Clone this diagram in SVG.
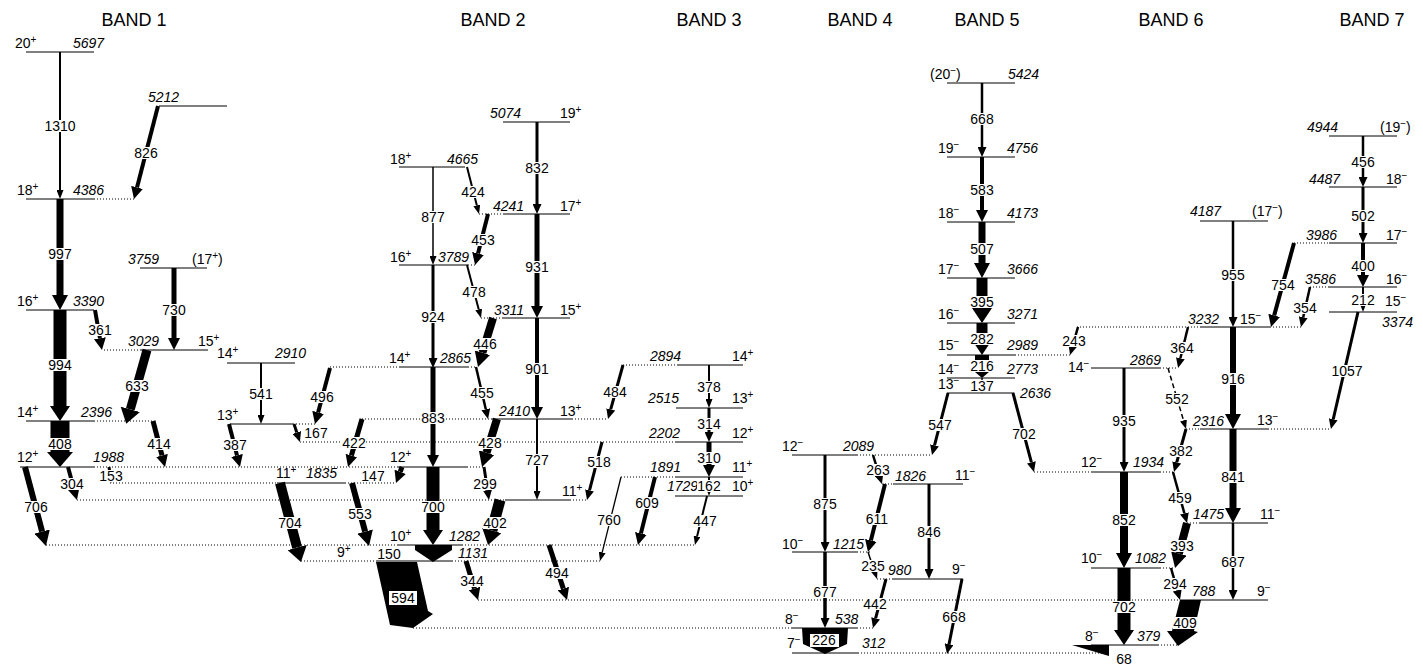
<svg xmlns="http://www.w3.org/2000/svg" width="1423" height="668" viewBox="0 0 1423 668">
<style>
text{font-family:"Liberation Sans",Arial,sans-serif;font-size:14px;fill:#000}
.e{font-style:italic}
.c{text-anchor:middle}
.sp{font-size:10px}
.ttl{font-size:18px;text-anchor:middle}
.lv{stroke:#000;stroke-width:1}
.dt{stroke:#000;stroke-width:1;stroke-dasharray:1 2}
.tr line{stroke:#000}
.bx{fill:#fff}
.bx3{fill:#fff;width:24px;height:12px}
.bx4{fill:#fff;width:31px;height:12px}
</style>
<defs>
<marker id="a1" markerUnits="userSpaceOnUse" markerWidth="9" markerHeight="7" viewBox="0 0 9 7" refX="0" refY="3.5" orient="auto"><path d="M0,0L9,3.5L0,7z"/></marker>
<marker id="a2" markerUnits="userSpaceOnUse" markerWidth="10" markerHeight="9" viewBox="0 0 10 9" refX="0" refY="4.5" orient="auto"><path d="M0,0L10,4.5L0,9z"/></marker>
<marker id="a3" markerUnits="userSpaceOnUse" markerWidth="12" markerHeight="12" viewBox="0 0 12 12" refX="0" refY="6" orient="auto"><path d="M0,0L12,6L0,12z"/></marker>
<marker id="a4" markerUnits="userSpaceOnUse" markerWidth="15" markerHeight="16" viewBox="0 0 15 16" refX="0" refY="8" orient="auto"><path d="M0,0L15,8L0,16z"/></marker>
<marker id="a5" markerUnits="userSpaceOnUse" markerWidth="15" markerHeight="20" viewBox="0 0 15 20" refX="0" refY="10" orient="auto"><path d="M0,0L15,10L0,20z"/></marker>
<marker id="a6" markerUnits="userSpaceOnUse" markerWidth="15" markerHeight="26" viewBox="0 0 15 26" refX="0" refY="13" orient="auto"><path d="M0,0L15,13L0,26z"/></marker>
</defs>
<rect width="1423" height="668" fill="#fff"/>
<g id="titles">
<text class="ttl" x="134" y="26">BAND 1</text>
<text class="ttl" x="493" y="26">BAND 2</text>
<text class="ttl" x="709" y="26">BAND 3</text>
<text class="ttl" x="860" y="26">BAND 4</text>
<text class="ttl" x="987" y="26">BAND 5</text>
<text class="ttl" x="1171" y="26">BAND 6</text>
<text class="ttl" x="1372" y="26">BAND 7</text>
</g>
<g id="levels">
<g id="lv-5697"><line class="lv" x1="26" y1="52" x2="94" y2="52"/><text x="15" y="48">20<tspan class="sp" dy="-5">+</tspan></text><text class="e" x="73" y="48">5697</text></g>
<g id="lv-5212"><line class="lv" x1="159" y1="106" x2="227" y2="106"/><text class="e" x="148" y="102">5212</text></g>
<g id="lv-4386"><line class="lv" x1="26" y1="199" x2="94" y2="199"/><line class="dt" x1="94" y1="199" x2="134" y2="199"/><text x="17" y="195">18<tspan class="sp" dy="-5">+</tspan></text><text class="e" x="73" y="195">4386</text></g>
<g id="lv-3759"><line class="lv" x1="140" y1="268" x2="207" y2="268"/><text class="e" x="128" y="264">3759</text><text x="192" y="264">(17<tspan class="sp" dy="-5">+</tspan><tspan dy="5">)</tspan></text></g>
<g id="lv-3390"><line class="lv" x1="26" y1="310" x2="94" y2="310"/><text x="17" y="306">16<tspan class="sp" dy="-5">+</tspan></text><text class="e" x="73" y="306">3390</text></g>
<g id="lv-3029"><line class="lv" x1="140" y1="350" x2="208" y2="350"/><line class="dt" x1="104" y1="350" x2="140" y2="350"/><text class="e" x="128" y="346">3029</text><text x="198" y="346">15<tspan class="sp" dy="-5">+</tspan></text></g>
<g id="lv-2396"><line class="lv" x1="26" y1="421" x2="94" y2="421"/><line class="dt" x1="94" y1="421" x2="153" y2="421"/><text x="17" y="417">14<tspan class="sp" dy="-5">+</tspan></text><text class="e" x="81" y="417">2396</text></g>
<g id="lv-1988"><line class="lv" x1="20" y1="467" x2="94" y2="467"/><line class="dt" x1="94" y1="467" x2="398" y2="467"/><text x="17" y="462">12<tspan class="sp" dy="-5">+</tspan></text><text class="e" x="93" y="462">1988</text></g>
<g id="lv-2910"><line class="lv" x1="227" y1="363" x2="295" y2="363"/><text x="217" y="358">14<tspan class="sp" dy="-5">+</tspan></text><text class="e" x="275" y="358">2910</text></g>
<g id="lv-b1-13"><line class="lv" x1="230" y1="424" x2="293" y2="424"/><line class="dt" x1="293" y1="424" x2="315" y2="424"/><text x="217" y="420">13<tspan class="sp" dy="-5">+</tspan></text></g>
<g id="lv-1835"><line class="lv" x1="277" y1="483" x2="345" y2="483"/><line class="dt" x1="110" y1="483" x2="277" y2="483"/><line class="dt" x1="345" y1="483" x2="396" y2="483"/><text x="276" y="478">11<tspan class="sp" dy="-5">+</tspan></text><text class="e" x="306" y="478">1835</text></g>
<g id="lv-4665"><line class="lv" x1="399" y1="167" x2="465" y2="167"/><text x="390" y="164">18<tspan class="sp" dy="-5">+</tspan></text><text class="e" x="447" y="164">4665</text></g>
<g id="lv-5074"><line class="lv" x1="503" y1="122" x2="570" y2="122"/><text class="e" x="490" y="118">5074</text><text x="560" y="118">19<tspan class="sp" dy="-5">+</tspan></text></g>
<g id="lv-4241"><line class="lv" x1="503" y1="214" x2="570" y2="214"/><line class="dt" x1="479" y1="214" x2="503" y2="214"/><text class="e" x="493" y="211">4241</text><text x="560" y="211">17<tspan class="sp" dy="-5">+</tspan></text></g>
<g id="lv-3789"><line class="lv" x1="399" y1="265" x2="468" y2="265"/><line class="dt" x1="468" y1="265" x2="477" y2="265"/><text x="390" y="262">16<tspan class="sp" dy="-5">+</tspan></text><text class="e" x="438" y="262">3789</text></g>
<g id="lv-3311"><line class="lv" x1="503" y1="318" x2="570" y2="318"/><line class="dt" x1="481" y1="318" x2="503" y2="318"/><text class="e" x="494" y="315">3311</text><text x="560" y="315">15<tspan class="sp" dy="-5">+</tspan></text></g>
<g id="lv-2865"><line class="lv" x1="400" y1="367" x2="468" y2="367"/><line class="dt" x1="330" y1="367" x2="400" y2="367"/><line class="dt" x1="468" y1="367" x2="476" y2="367"/><text x="389" y="363">14<tspan class="sp" dy="-5">+</tspan></text><text class="e" x="440" y="363">2865</text></g>
<g id="lv-2410"><line class="lv" x1="492" y1="419" x2="572" y2="419"/><line class="dt" x1="362" y1="419" x2="492" y2="419"/><line class="dt" x1="572" y1="419" x2="608" y2="419"/><text class="e" x="499" y="416">2410</text><text x="560" y="416">13<tspan class="sp" dy="-5">+</tspan></text></g>
<g id="lv-b2-12"><line class="lv" x1="398" y1="467" x2="467" y2="467"/><line class="dt" x1="467" y1="467" x2="484" y2="467"/><text x="390" y="462">12<tspan class="sp" dy="-5">+</tspan></text></g>
<g id="lv-b2-11"><line class="lv" x1="505" y1="500" x2="570" y2="500"/><line class="dt" x1="77" y1="500" x2="505" y2="500"/><line class="dt" x1="570" y1="500" x2="587" y2="500"/><text x="562" y="496">11<tspan class="sp" dy="-5">+</tspan></text></g>
<g id="lv-1282"><line class="lv" x1="398" y1="545" x2="462" y2="545"/><line class="dt" x1="46" y1="545" x2="398" y2="545"/><line class="dt" x1="462" y1="545" x2="695" y2="545"/><text x="390" y="541">10<tspan class="sp" dy="-5">+</tspan></text><text class="e" x="449" y="541">1282</text></g>
<g id="lv-1131"><line class="lv" x1="376" y1="561" x2="452" y2="561"/><line class="dt" x1="301" y1="561" x2="376" y2="561"/><line class="dt" x1="452" y1="561" x2="600" y2="561"/><text x="337" y="557">9<tspan class="sp" dy="-5">+</tspan></text><text class="e" x="458" y="558">1131</text></g>
<g id="lv-2894"><line class="lv" x1="677" y1="365" x2="743" y2="365"/><line class="dt" x1="623" y1="365" x2="677" y2="365"/><text class="e" x="650" y="361">2894</text><text x="732" y="361">14<tspan class="sp" dy="-5">+</tspan></text></g>
<g id="lv-2515"><line class="lv" x1="676" y1="408" x2="743" y2="408"/><text class="e" x="648" y="403">2515</text><text x="732" y="403">13<tspan class="sp" dy="-5">+</tspan></text></g>
<g id="lv-2202"><line class="lv" x1="676" y1="442" x2="743" y2="442"/><line class="dt" x1="300" y1="442" x2="676" y2="442"/><text class="e" x="649" y="438">2202</text><text x="732" y="438">12<tspan class="sp" dy="-5">+</tspan></text></g>
<g id="lv-1891"><line class="lv" x1="675" y1="477" x2="743" y2="477"/><line class="dt" x1="621" y1="477" x2="675" y2="477"/><text class="e" x="650" y="472">1891</text><text x="732" y="472">11<tspan class="sp" dy="-5">+</tspan></text></g>
<g id="lv-1729"><line class="lv" x1="675" y1="496" x2="743" y2="496"/><text class="e" x="667" y="491">1729</text><text x="732" y="491">10<tspan class="sp" dy="-5">+</tspan></text></g>
<g id="lv-2089"><line class="lv" x1="792" y1="455" x2="857" y2="455"/><line class="dt" x1="857" y1="455" x2="932" y2="455"/><text x="782" y="451">12<tspan class="sp" dy="-5">−</tspan></text><text class="e" x="843" y="451">2089</text></g>
<g id="lv-1826"><line class="lv" x1="893" y1="484" x2="963" y2="484"/><line class="dt" x1="882" y1="484" x2="893" y2="484"/><text class="e" x="895" y="481">1826</text><text x="955" y="480">11<tspan class="sp" dy="-5">−</tspan></text></g>
<g id="lv-1215"><line class="lv" x1="792" y1="552" x2="857" y2="552"/><line class="dt" x1="857" y1="552" x2="870" y2="552"/><text x="782" y="549">10<tspan class="sp" dy="-5">−</tspan></text><text class="e" x="833" y="549">1215</text></g>
<g id="lv-980"><line class="lv" x1="893" y1="579" x2="963" y2="579"/><line class="dt" x1="877" y1="579" x2="893" y2="579"/><text class="e" x="888" y="575">980</text><text x="952" y="574">9<tspan class="sp" dy="-5">−</tspan></text></g>
<g id="lv-538"><line class="lv" x1="792" y1="628" x2="857" y2="628"/><line class="dt" x1="413" y1="628" x2="792" y2="628"/><line class="dt" x1="857" y1="628" x2="874" y2="628"/><text x="785" y="624">8<tspan class="sp" dy="-5">−</tspan></text><text class="e" x="835" y="624">538</text></g>
<g id="lv-312"><line class="lv" x1="792" y1="653" x2="858" y2="653"/><line class="dt" x1="858" y1="653" x2="1108" y2="653"/><text x="787" y="648">7<tspan class="sp" dy="-5">−</tspan></text><text class="e" x="862" y="648">312</text></g>
<g id="lv-5424"><line class="lv" x1="947" y1="83" x2="1015" y2="83"/><text x="930" y="79">(20<tspan class="sp" dy="-5">−</tspan><tspan dy="5">)</tspan></text><text class="e" x="1008" y="79">5424</text></g>
<g id="lv-4756"><line class="lv" x1="947" y1="157" x2="1015" y2="157"/><text x="938" y="153">19<tspan class="sp" dy="-5">−</tspan></text><text class="e" x="1007" y="153">4756</text></g>
<g id="lv-4173"><line class="lv" x1="947" y1="222" x2="1015" y2="222"/><text x="938" y="218">18<tspan class="sp" dy="-5">−</tspan></text><text class="e" x="1007" y="218">4173</text></g>
<g id="lv-3666"><line class="lv" x1="947" y1="278" x2="1015" y2="278"/><text x="938" y="274">17<tspan class="sp" dy="-5">−</tspan></text><text class="e" x="1007" y="274">3666</text></g>
<g id="lv-3271"><line class="lv" x1="947" y1="323" x2="1015" y2="323"/><text x="938" y="319">16<tspan class="sp" dy="-5">−</tspan></text><text class="e" x="1007" y="319">3271</text></g>
<g id="lv-2989"><line class="lv" x1="947" y1="355" x2="1015" y2="355"/><line class="dt" x1="1015" y1="355" x2="1072" y2="355"/><text x="938" y="350">15<tspan class="sp" dy="-5">−</tspan></text><text class="e" x="1007" y="350">2989</text></g>
<g id="lv-2773"><line class="lv" x1="947" y1="378" x2="1015" y2="378"/><text x="938" y="374">14<tspan class="sp" dy="-5">−</tspan></text><text class="e" x="1007" y="374">2773</text></g>
<g id="lv-2636"><line class="lv" x1="947" y1="393" x2="1014" y2="393"/><text x="938" y="389">13<tspan class="sp" dy="-5">−</tspan></text><text class="e" x="1020" y="398">2636</text></g>
<g id="lv-4187"><line class="lv" x1="1200" y1="221" x2="1268" y2="221"/><text class="e" x="1190" y="216">4187</text><text x="1252" y="216">(17<tspan class="sp" dy="-5">−</tspan><tspan dy="5">)</tspan></text></g>
<g id="lv-3232"><line class="lv" x1="1200" y1="327" x2="1270" y2="327"/><line class="dt" x1="1077" y1="327" x2="1200" y2="327"/><line class="dt" x1="1270" y1="327" x2="1301" y2="327"/><text class="e" x="1188" y="324">3232</text><text x="1240" y="324">15<tspan class="sp" dy="-5">−</tspan></text></g>
<g id="lv-2869"><line class="lv" x1="1091" y1="368" x2="1160" y2="368"/><line class="dt" x1="1160" y1="368" x2="1178" y2="368"/><text x="1068" y="372">14<tspan class="sp" dy="-5">−</tspan></text><text class="e" x="1130" y="365">2869</text></g>
<g id="lv-2316"><line class="lv" x1="1200" y1="429" x2="1268" y2="429"/><line class="dt" x1="1186" y1="429" x2="1200" y2="429"/><line class="dt" x1="1268" y1="429" x2="1331" y2="429"/><text class="e" x="1193" y="426">2316</text><text x="1257" y="425">13<tspan class="sp" dy="-5">−</tspan></text></g>
<g id="lv-1934"><line class="lv" x1="1091" y1="472" x2="1160" y2="472"/><line class="dt" x1="1034" y1="472" x2="1091" y2="472"/><line class="dt" x1="1160" y1="472" x2="1174" y2="472"/><text x="1081" y="467">12<tspan class="sp" dy="-5">−</tspan></text><text class="e" x="1133" y="467">1934</text></g>
<g id="lv-1475"><line class="lv" x1="1200" y1="523" x2="1268" y2="523"/><line class="dt" x1="1187" y1="523" x2="1200" y2="523"/><text class="e" x="1193" y="519">1475</text><text x="1260" y="519">11<tspan class="sp" dy="-5">−</tspan></text></g>
<g id="lv-1082"><line class="lv" x1="1091" y1="568" x2="1160" y2="568"/><line class="dt" x1="1160" y1="568" x2="1175" y2="568"/><text x="1081" y="563">10<tspan class="sp" dy="-5">−</tspan></text><text class="e" x="1135" y="563">1082</text></g>
<g id="lv-788"><line class="lv" x1="1180" y1="600" x2="1268" y2="600"/><line class="dt" x1="478" y1="600" x2="1180" y2="600"/><text class="e" x="1192" y="596">788</text><text x="1257" y="596">9<tspan class="sp" dy="-5">−</tspan></text></g>
<g id="lv-379"><line class="lv" x1="1091" y1="645" x2="1158" y2="645"/><line class="dt" x1="1158" y1="645" x2="1178" y2="645"/><text x="1085" y="641">8<tspan class="sp" dy="-5">−</tspan></text><text class="e" x="1137" y="641">379</text></g>
<g id="lv-4944"><line class="lv" x1="1329" y1="136" x2="1397" y2="136"/><text class="e" x="1307" y="132">4944</text><text x="1380" y="132">(19<tspan class="sp" dy="-5">−</tspan><tspan dy="5">)</tspan></text></g>
<g id="lv-4487"><line class="lv" x1="1329" y1="187" x2="1397" y2="187"/><text class="e" x="1309" y="184">4487</text><text x="1386" y="184">18<tspan class="sp" dy="-5">−</tspan></text></g>
<g id="lv-3986"><line class="lv" x1="1329" y1="243" x2="1397" y2="243"/><line class="dt" x1="1294" y1="243" x2="1329" y2="243"/><text class="e" x="1306" y="240">3986</text><text x="1386" y="240">17<tspan class="sp" dy="-5">−</tspan></text></g>
<g id="lv-3586"><line class="lv" x1="1329" y1="287" x2="1397" y2="287"/><line class="dt" x1="1310" y1="287" x2="1329" y2="287"/><text class="e" x="1305" y="284">3586</text><text x="1386" y="284">16<tspan class="sp" dy="-5">−</tspan></text></g>
<g id="lv-3374"><line class="lv" x1="1329" y1="312" x2="1397" y2="312"/><text x="1385" y="306">15<tspan class="sp" dy="-5">−</tspan></text><text class="e" x="1382" y="327">3374</text></g>
</g>
<g id="connectors" class="tr">
<g id="t1310"><line x1="60" y1="52" x2="60" y2="190" stroke-width="2" marker-end="url(#a1)"/><rect class="bx4" x="44.5" y="120"/><text class="c" x="60" y="131">1310</text></g>
<g id="t826"><line x1="158" y1="106" x2="137" y2="187.4" stroke-width="4" marker-end="url(#a3)"/><rect class="bx3" x="134" y="147"/><text class="c" x="146" y="158">826</text></g>
<g id="t997"><line x1="60" y1="199" x2="60" y2="295" stroke-width="7" marker-end="url(#a4)"/><rect class="bx3" x="48" y="248"/><text class="c" x="60" y="259">997</text></g>
<g id="t994"><line x1="60" y1="310" x2="60" y2="406" stroke-width="13" marker-end="url(#a5)"/><rect class="bx3" x="48" y="359"/><text class="c" x="60" y="370">994</text></g>
<g id="t408"><line x1="60" y1="421" x2="60" y2="452" stroke-width="19" marker-end="url(#a6)"/><rect class="bx3" x="48" y="438"/><text class="c" x="60" y="449">408</text></g>
<g id="t730"><line x1="174" y1="268" x2="174" y2="338" stroke-width="5" marker-end="url(#a3)"/><rect class="bx3" x="162" y="304"/><text class="c" x="174" y="315">730</text></g>
<g id="t361"><line x1="95" y1="310" x2="99.9" y2="338.2" stroke-width="4" marker-end="url(#a3)"/><rect class="bx3" x="88" y="324"/><text class="c" x="100" y="335">361</text></g>
<g id="t633"><line x1="147" y1="350" x2="130.3" y2="409.4" stroke-width="9" marker-end="url(#a5)"/><rect class="bx3" x="125" y="380"/><text class="c" x="137" y="391">633</text></g>
<g id="t414"><line x1="153" y1="421" x2="162" y2="455.4" stroke-width="5" marker-end="url(#a3)"/><rect class="bx3" x="147" y="438"/><text class="c" x="159" y="449">414</text></g>
<g id="t153"><line x1="109" y1="467" x2="110" y2="474" stroke-width="3" marker-end="url(#a1)"/><rect class="bx3" x="99" y="470"/><text class="c" x="111" y="481">153</text></g>
<g id="t304"><line x1="68" y1="467" x2="73.8" y2="488.4" stroke-width="4" marker-end="url(#a3)"/><rect class="bx3" x="60" y="478"/><text class="c" x="72" y="489">304</text></g>
<g id="t706"><line x1="25" y1="467" x2="42.1" y2="531.5" stroke-width="6" marker-end="url(#a4)"/><rect class="bx3" x="24" y="501"/><text class="c" x="36" y="512">706</text></g>
<g id="t541"><line x1="261" y1="363" x2="261" y2="415" stroke-width="2" marker-end="url(#a1)"/><rect class="bx3" x="249" y="388"/><text class="c" x="261" y="399">541</text></g>
<g id="t496"><line x1="330" y1="368" x2="318.1" y2="412.4" stroke-width="4" marker-end="url(#a3)"/><rect class="bx3" x="310" y="391"/><text class="c" x="322" y="402">496</text></g>
<g id="t167"><line x1="294" y1="424" x2="296.8" y2="432.5" stroke-width="3" marker-end="url(#a2)"/><text class="c" x="316" y="438">167</text></g>
<g id="t387"><line x1="229" y1="424" x2="237" y2="455.4" stroke-width="4" marker-end="url(#a3)"/><rect class="bx3" x="223" y="439"/><text class="c" x="235" y="450">387</text></g>
<g id="t704"><line x1="280" y1="483" x2="297.1" y2="547.5" stroke-width="10" marker-end="url(#a5)"/><rect class="bx3" x="278" y="517"/><text class="c" x="290" y="528">704</text></g>
<g id="t553"><line x1="352" y1="483" x2="365.1" y2="531.5" stroke-width="6" marker-end="url(#a4)"/><rect class="bx3" x="348" y="508"/><text class="c" x="360" y="519">553</text></g>
<g id="t422"><line x1="362" y1="419" x2="351.4" y2="455.5" stroke-width="5" marker-end="url(#a3)"/><rect class="bx3" x="342" y="437"/><text class="c" x="354" y="448">422</text></g>
<g id="t147"><line x1="402" y1="467" x2="400.2" y2="471.8" stroke-width="5" marker-end="url(#a3)"/><text class="c" x="373" y="481">147</text></g>
<g id="t877"><line x1="433" y1="167" x2="433" y2="256" stroke-width="1.5" marker-end="url(#a1)"/><rect class="bx3" x="421" y="211"/><text class="c" x="433" y="222">877</text></g>
<g id="t424"><line x1="467" y1="167" x2="476.8" y2="205.3" stroke-width="2" marker-end="url(#a1)"/><rect class="bx3" x="461" y="186"/><text class="c" x="473" y="197">424</text></g>
<g id="t832"><line x1="537" y1="122" x2="537" y2="204" stroke-width="3" marker-end="url(#a2)"/><rect class="bx3" x="525" y="162"/><text class="c" x="537" y="173">832</text></g>
<g id="t453"><line x1="488" y1="214" x2="478" y2="253.4" stroke-width="4" marker-end="url(#a3)"/><rect class="bx3" x="471" y="234"/><text class="c" x="483" y="245">453</text></g>
<g id="t931"><line x1="537" y1="214" x2="537" y2="306" stroke-width="5" marker-end="url(#a3)"/><rect class="bx3" x="525" y="261"/><text class="c" x="537" y="272">931</text></g>
<g id="t924"><line x1="433" y1="265" x2="433" y2="358" stroke-width="3" marker-end="url(#a2)"/><rect class="bx3" x="421" y="311"/><text class="c" x="433" y="322">924</text></g>
<g id="t478"><line x1="467" y1="265" x2="478.7" y2="309.3" stroke-width="2" marker-end="url(#a1)"/><rect class="bx3" x="462" y="286"/><text class="c" x="474" y="297">478</text></g>
<g id="t446"><line x1="493" y1="318" x2="482.4" y2="352.7" stroke-width="8" marker-end="url(#a4)"/><rect class="bx3" x="473" y="338"/><text class="c" x="485" y="349">446</text></g>
<g id="t901"><line x1="537" y1="318" x2="537" y2="407" stroke-width="4" marker-end="url(#a3)"/><rect class="bx3" x="525" y="363"/><text class="c" x="537" y="374">901</text></g>
<g id="t883"><line x1="433" y1="367" x2="433" y2="455" stroke-width="5" marker-end="url(#a3)"/><rect class="bx3" x="421" y="412"/><text class="c" x="433" y="423">883</text></g>
<g id="t455"><line x1="476" y1="367" x2="485.8" y2="409.3" stroke-width="2.5" marker-end="url(#a2)"/><rect class="bx3" x="470" y="387"/><text class="c" x="482" y="398">455</text></g>
<g id="t428"><line x1="497" y1="419" x2="486.5" y2="452.7" stroke-width="8" marker-end="url(#a4)"/><rect class="bx3" x="478" y="437"/><text class="c" x="490" y="448">428</text></g>
<g id="t727"><line x1="537" y1="419" x2="537" y2="491" stroke-width="2" marker-end="url(#a1)"/><rect class="bx3" x="525" y="454"/><text class="c" x="537" y="465">727</text></g>
<g id="t299"><line x1="484" y1="467" x2="487.5" y2="490.1" stroke-width="3" marker-end="url(#a2)"/><rect class="bx3" x="473" y="478"/><text class="c" x="485" y="489">299</text></g>
<g id="t700"><line x1="433" y1="467" x2="433" y2="530" stroke-width="13" marker-end="url(#a5)"/><rect class="bx3" x="421" y="501"/><text class="c" x="433" y="512">700</text></g>
<g id="t402"><line x1="500" y1="500" x2="491.9" y2="530.5" stroke-width="11" marker-end="url(#a5)"/><rect class="bx3" x="483" y="517"/><text class="c" x="495" y="528">402</text></g>
<g id="t150"><polygon points="415,545 452,545 452,550 433,562 415,550"/><text class="c" x="389" y="559">150</text></g>
<g id="t594"><polygon points="376,562 417,562 428,611 433,614 413,628 390,625"/><rect class="bx" x="389" y="591" width="28" height="14"/><text class="c" x="403" y="603">594</text></g>
<g id="t344"><line x1="466" y1="561" x2="474.5" y2="588.5" stroke-width="5" marker-end="url(#a3)"/><rect class="bx3" x="460" y="575"/><text class="c" x="472" y="586">344</text></g>
<g id="t494"><line x1="549" y1="545" x2="563.3" y2="588.6" stroke-width="5" marker-end="url(#a3)"/><rect class="bx3" x="545" y="567"/><text class="c" x="557" y="578">494</text></g>
<g id="t484"><line x1="623" y1="365" x2="610.7" y2="409.4" stroke-width="3" marker-end="url(#a2)"/><rect class="bx3" x="603" y="386"/><text class="c" x="615" y="397">484</text></g>
<g id="t518"><line x1="602" y1="442" x2="589.5" y2="490.3" stroke-width="3" marker-end="url(#a2)"/><rect class="bx3" x="587" y="456"/><text class="c" x="599" y="467">518</text></g>
<g id="t760"><line x1="621" y1="477" x2="602.2" y2="552.3" stroke-width="1.3" marker-end="url(#a1)"/><rect class="bx3" x="597" y="514"/><text class="c" x="609" y="525">760</text></g>
<g id="t609"><line x1="655" y1="477" x2="640.9" y2="533.4" stroke-width="4" marker-end="url(#a3)"/><rect class="bx3" x="635" y="497"/><text class="c" x="647" y="508">609</text></g>
<g id="t447"><line x1="707" y1="496" x2="697.1" y2="536.3" stroke-width="2" marker-end="url(#a1)"/><rect class="bx3" x="693" y="515"/><text class="c" x="705" y="526">447</text></g>
<g id="t378"><line x1="709" y1="365" x2="709" y2="399" stroke-width="2" marker-end="url(#a1)"/><rect class="bx3" x="697" y="381"/><text class="c" x="709" y="392">378</text></g>
<g id="t314"><line x1="709" y1="408" x2="709" y2="432" stroke-width="3" marker-end="url(#a2)"/><rect class="bx3" x="697" y="418"/><text class="c" x="709" y="429">314</text></g>
<g id="t310"><line x1="709" y1="442" x2="709" y2="465" stroke-width="5" marker-end="url(#a3)"/><rect class="bx3" x="697" y="452"/><text class="c" x="709" y="463">310</text></g>
<g id="t162"><line x1="709" y1="477" x2="709" y2="487" stroke-width="2" marker-end="url(#a1)"/><rect class="bx3" x="697" y="480"/><text class="c" x="709" y="491">162</text></g>
<g id="t875"><line x1="825" y1="455" x2="825" y2="542" stroke-width="3" marker-end="url(#a2)"/><rect class="bx3" x="813" y="498"/><text class="c" x="825" y="509">875</text></g>
<g id="t263"><line x1="873" y1="455" x2="879" y2="474.5" stroke-width="2.5" marker-end="url(#a2)"/><rect class="bx3" x="866" y="464"/><text class="c" x="878" y="475">263</text></g>
<g id="t611"><line x1="885" y1="484" x2="870.9" y2="540.4" stroke-width="4" marker-end="url(#a3)"/><rect class="bx3" x="865" y="513"/><text class="c" x="877" y="524">611</text></g>
<g id="t846"><line x1="929" y1="484" x2="929" y2="569" stroke-width="3" marker-end="url(#a2)"/><rect class="bx3" x="917" y="526"/><text class="c" x="929" y="537">846</text></g>
<g id="t235"><line x1="868" y1="552" x2="874.2" y2="570.5" stroke-width="1.5" marker-end="url(#a1)"/><rect class="bx3" x="861" y="560"/><text class="c" x="873" y="571">235</text></g>
<g id="t677"><line x1="825" y1="552" x2="825" y2="618" stroke-width="3.5" marker-end="url(#a2)"/><rect class="bx3" x="813" y="586"/><text class="c" x="825" y="597">677</text></g>
<g id="t442"><line x1="886" y1="579" x2="875.6" y2="618.3" stroke-width="3" marker-end="url(#a2)"/><rect class="bx3" x="863" y="598"/><text class="c" x="875" y="609">442</text></g>
<g id="t668b"><line x1="962" y1="579" x2="949" y2="644.2" stroke-width="3" marker-end="url(#a2)"/><rect class="bx3" x="942" y="611"/><text class="c" x="954" y="622">668</text></g>
<g id="t226"><polygon points="802,628 848,628 847,644 825,654 803,644"/><rect class="bx" x="810" y="634" width="29" height="13"/><text class="c" x="824" y="645">226</text></g>
<g id="t668"><line x1="982" y1="83" x2="982" y2="147" stroke-width="2.5" marker-end="url(#a2)"/><rect class="bx3" x="970" y="113"/><text class="c" x="982" y="124">668</text></g>
<g id="t583"><line x1="982" y1="157" x2="982" y2="210" stroke-width="4" marker-end="url(#a3)"/><rect class="bx3" x="970" y="184"/><text class="c" x="982" y="195">583</text></g>
<g id="t507"><line x1="982" y1="222" x2="982" y2="263" stroke-width="7" marker-end="url(#a4)"/><rect class="bx3" x="970" y="243"/><text class="c" x="982" y="254">507</text></g>
<g id="t395"><line x1="982" y1="278" x2="982" y2="308" stroke-width="11" marker-end="url(#a5)"/><rect class="bx3" x="970" y="296"/><text class="c" x="982" y="307">395</text></g>
<g id="t282"><line x1="982" y1="323" x2="982" y2="340" stroke-width="11" marker-end="url(#a5)"/><rect class="bx3" x="970" y="333"/><text class="c" x="982" y="344">282</text></g>
<g id="t216"><rect x="975" y="355" width="14" height="5"/><polygon points="975,372 989,372 982,378"/><rect class="bx3" x="970" y="360"/><text class="c" x="982" y="371">216</text></g>
<g id="t137"><line x1="982" y1="378" x2="982" y2="384" stroke-width="1.5" marker-end="url(#a1)"/><rect class="bx3" x="970" y="380"/><text class="c" x="982" y="391">137</text></g>
<g id="t547"><line x1="948" y1="393" x2="934.5" y2="445.3" stroke-width="3" marker-end="url(#a2)"/><rect class="bx3" x="928" y="419"/><text class="c" x="940" y="430">547</text></g>
<g id="t702a"><line x1="1013" y1="393" x2="1031.4" y2="462.3" stroke-width="3" marker-end="url(#a2)"/><rect class="bx3" x="1012" y="428"/><text class="c" x="1024" y="439">702</text></g>
<g id="t243"><line x1="1078" y1="327" x2="1072.8" y2="345.4" stroke-width="2.5" marker-end="url(#a2)"/><rect class="bx3" x="1062" y="335"/><text class="c" x="1074" y="346">243</text></g>
<g id="t955"><line x1="1233" y1="221" x2="1233" y2="317" stroke-width="2.5" marker-end="url(#a2)"/><rect class="bx3" x="1221" y="269"/><text class="c" x="1233" y="280">955</text></g>
<g id="t754"><line x1="1294" y1="243" x2="1274.2" y2="315.4" stroke-width="4" marker-end="url(#a3)"/><rect class="bx3" x="1271" y="279"/><text class="c" x="1283" y="290">754</text></g>
<g id="t354"><line x1="1310" y1="287" x2="1303.2" y2="317.2" stroke-width="2.5" marker-end="url(#a2)"/><rect class="bx3" x="1293" y="302"/><text class="c" x="1305" y="313">354</text></g>
<g id="t364"><line x1="1188" y1="327" x2="1180.4" y2="358.3" stroke-width="2.5" marker-end="url(#a2)"/><rect class="bx3" x="1170" y="342"/><text class="c" x="1182" y="353">364</text></g>
<g id="t552"><line x1="1168" y1="368" x2="1183.5" y2="420.4" stroke-width="1.5" stroke-dasharray="5 3" marker-end="url(#a1)"/><rect class="bx3" x="1165" y="393"/><text class="c" x="1177" y="404">552</text></g>
<g id="t916"><line x1="1233" y1="327" x2="1233" y2="414" stroke-width="6" marker-end="url(#a4)"/><rect class="bx3" x="1221" y="373"/><text class="c" x="1233" y="384">916</text></g>
<g id="t1057"><line x1="1358" y1="312" x2="1333.2" y2="419.3" stroke-width="3" marker-end="url(#a2)"/><rect class="bx4" x="1331.5" y="365"/><text class="c" x="1347" y="376">1057</text></g>
<g id="t935"><line x1="1124" y1="368" x2="1124" y2="462" stroke-width="3" marker-end="url(#a2)"/><rect class="bx3" x="1112" y="415"/><text class="c" x="1124" y="426">935</text></g>
<g id="t382"><line x1="1186" y1="429" x2="1176.7" y2="462.4" stroke-width="3" marker-end="url(#a2)"/><rect class="bx3" x="1169" y="445"/><text class="c" x="1181" y="456">382</text></g>
<g id="t841"><line x1="1233" y1="429" x2="1233" y2="508" stroke-width="7" marker-end="url(#a4)"/><rect class="bx3" x="1221" y="471"/><text class="c" x="1233" y="482">841</text></g>
<g id="t459"><line x1="1173" y1="472" x2="1184.4" y2="513.4" stroke-width="2.5" marker-end="url(#a2)"/><rect class="bx3" x="1168" y="492"/><text class="c" x="1180" y="503">459</text></g>
<g id="t852"><line x1="1124" y1="472" x2="1124" y2="553" stroke-width="8" marker-end="url(#a4)"/><rect class="bx3" x="1112" y="514"/><text class="c" x="1124" y="525">852</text></g>
<g id="t393"><line x1="1187" y1="523" x2="1178.9" y2="553.5" stroke-width="8" marker-end="url(#a4)"/><rect class="bx3" x="1170" y="540"/><text class="c" x="1182" y="551">393</text></g>
<g id="t687"><line x1="1233" y1="523" x2="1233" y2="590" stroke-width="2.5" marker-end="url(#a2)"/><rect class="bx3" x="1221" y="556"/><text class="c" x="1233" y="567">687</text></g>
<g id="t294"><line x1="1171" y1="568" x2="1177.3" y2="590.4" stroke-width="2.5" marker-end="url(#a2)"/><rect class="bx3" x="1163" y="578"/><text class="c" x="1175" y="589">294</text></g>
<g id="t702b"><line x1="1124" y1="568" x2="1124" y2="630" stroke-width="13" marker-end="url(#a5)"/><rect class="bx3" x="1112" y="601"/><text class="c" x="1124" y="612">702</text></g>
<g id="t409"><polygon points="1180,600 1201,600 1194,631 1198,632 1178,646 1167,631 1172,631"/><rect class="bx3" x="1173" y="617"/><text class="c" x="1185" y="628">409</text></g>
<g id="t68"><polygon points="1072,645 1109,645 1109,656"/><text class="c" x="1124" y="664">68</text></g>
<g id="t456"><line x1="1363" y1="136" x2="1363" y2="177" stroke-width="2.5" marker-end="url(#a2)"/><rect class="bx3" x="1351" y="156"/><text class="c" x="1363" y="167">456</text></g>
<g id="t502"><line x1="1363" y1="187" x2="1363" y2="233" stroke-width="3" marker-end="url(#a2)"/><rect class="bx3" x="1351" y="210"/><text class="c" x="1363" y="221">502</text></g>
<g id="t400"><line x1="1363" y1="243" x2="1363" y2="275" stroke-width="4" marker-end="url(#a3)"/><rect class="bx3" x="1351" y="260"/><text class="c" x="1363" y="271">400</text></g>
<g id="t212"><line x1="1363" y1="287" x2="1363" y2="303" stroke-width="2" marker-end="url(#a1)"/><rect class="bx3" x="1351" y="294"/><text class="c" x="1363" y="305">212</text></g>
</g>
</svg>
